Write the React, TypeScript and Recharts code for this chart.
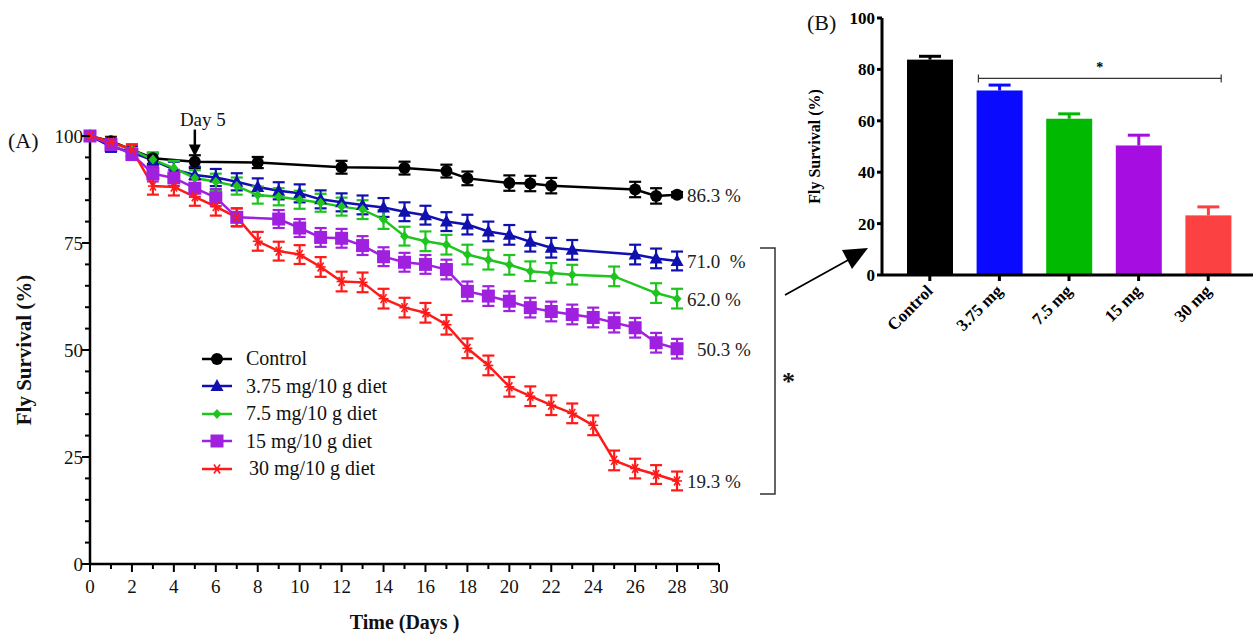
import React from 'react';
import {
    Bar, BarChart, Cell, ErrorBar, LabelList, Line, LineChart,
    ReferenceLine, XAxis, YAxis
} from 'recharts';

// ---- panel A: survival over time ----
const controlDays = [0, 1, 3, 5, 8, 12, 15, 17, 18, 20, 21, 22, 26, 27, 28];
const controlSurvival = [100, 98.8, 94.8, 94.0, 93.8, 92.7, 92.5, 91.8, 90.1, 89.0, 88.9, 88.4, 87.5, 86.0, 86.3];
const controlErr = [0, 1.0, 1.3, 1.5, 1.3, 1.5, 1.5, 1.5, 1.6, 1.8, 1.8, 1.8, 1.8, 1.8, 0.6];

const lowDays = [0, 1, 2, 3, 4, 5, 6, 7, 8, 9, 10, 11, 12, 13, 14, 15, 16, 17, 18, 19, 20, 21, 22, 23, 26, 27, 28];
const lowSurvival = [100, 97.5, 96.2, 94.3, 92.2, 90.9, 90.3, 89.3, 88.1, 87.2, 86.6, 85.2, 84.5, 83.9, 83.3, 82.3, 81.5, 80.0, 79.3, 77.7, 76.9, 75.3, 73.9, 73.4, 72.3, 71.4, 70.8];
const lowErr = [0, 1.2, 1.4, 1.6, 1.8, 1.9, 2.0, 2.0, 2.0, 2.0, 2.1, 2.1, 2.1, 2.2, 2.2, 2.2, 2.2, 2.2, 2.3, 2.3, 2.3, 2.3, 2.3, 2.3, 2.3, 2.3, 2.2];

const midDays = [0, 1, 2, 3, 4, 5, 6, 7, 8, 9, 10, 11, 12, 13, 14, 15, 16, 17, 18, 19, 20, 21, 22, 23, 25, 27, 28];
const midSurvival = [100, 98.5, 96.8, 94.5, 92.5, 90.2, 89.3, 88.3, 86.2, 85.8, 85.1, 84.4, 83.5, 82.8, 80.5, 76.6, 75.4, 74.6, 72.3, 71.1, 69.9, 68.4, 68.0, 67.6, 67.2, 63.3, 62.0];
const midErr = [0, 1.0, 1.3, 1.5, 1.7, 1.8, 1.9, 2.0, 2.0, 2.0, 2.1, 2.1, 2.1, 2.2, 2.2, 2.2, 2.3, 2.3, 2.3, 2.3, 2.3, 2.3, 2.3, 2.3, 2.3, 2.3, 2.3];

const highDays = [0, 1, 2, 3, 4, 5, 6, 7, 9, 10, 11, 12, 13, 14, 15, 16, 17, 18, 19, 20, 21, 22, 23, 24, 25, 26, 27, 28];
const highSurvival = [100, 98.0, 95.7, 91.2, 90.2, 87.8, 85.6, 81.0, 80.6, 78.5, 76.3, 76.1, 74.4, 71.8, 70.5, 70.0, 68.8, 63.7, 62.6, 61.4, 59.9, 59.0, 58.3, 57.6, 56.4, 55.2, 51.7, 50.3];
const highErr = [0, 1.0, 1.3, 1.8, 1.9, 2.0, 2.0, 2.1, 2.1, 2.1, 2.2, 2.2, 2.2, 2.2, 2.2, 2.2, 2.3, 2.3, 2.3, 2.3, 2.3, 2.3, 2.3, 2.3, 2.3, 2.3, 2.3, 2.3];

const topDays = [0, 1, 2, 3, 4, 5, 6, 7, 8, 9, 10, 11, 12, 13, 14, 15, 16, 17, 18, 19, 20, 21, 22, 23, 24, 25, 26, 27, 28];
const topSurvival = [100, 98.6, 96.8, 88.3, 88.1, 85.8, 83.5, 81.0, 75.4, 73.1, 72.3, 69.4, 66.0, 65.8, 62.0, 59.9, 58.7, 55.9, 50.4, 46.4, 41.4, 39.2, 37.1, 35.2, 32.4, 24.2, 22.3, 20.9, 19.4];
const topErr = [0, 1.0, 1.2, 2.0, 2.0, 2.1, 2.1, 2.1, 2.2, 2.2, 2.2, 2.3, 2.3, 2.3, 2.3, 2.3, 2.3, 2.3, 2.3, 2.3, 2.3, 2.3, 2.3, 2.3, 2.3, 2.3, 2.3, 2.2, 2.2];

const seriesNames = ['Control', '3.75 mg/10 g diet', '7.5 mg/10 g diet', '15 mg/10 g diet', '30 mg/10 g diet'];
const finalLabels = ['86.3 %', '71.0  %', '62.0 %', '50.3 %', '19.3 %'];
const dayTicks = [0, 1, 2, 3, 4, 5, 6, 7, 8, 9, 10, 11, 12, 13, 14, 15, 16, 17, 18, 19, 20, 21, 22, 23, 24, 25, 26, 27, 28, 29, 30];
const survivalTicks = [0, 5, 10, 15, 20, 25, 30, 35, 40, 45, 50, 55, 60, 65, 70, 75, 80, 85, 90, 95, 100];

// ---- panel B: survival at day 28 ----
const doseGroups = ['Control', '3.75 mg', '7.5 mg', '15 mg', '30 mg'];
const doseSurvival = [83.8, 71.8, 60.8, 50.4, 23.2];
const doseErr = [1.3, 2.1, 1.9, 4.0, 3.3];
const barTicks = [0, 20, 40, 60, 80, 100];

const LINE_COLORS = ['#000000', '#1010b0', '#1fc41f', '#a020e0', '#ff1a1a'];
const BAR_COLORS = ['#000000', '#0a0aff', '#00b900', '#a50de0', '#fb4141'];
const SERIF = '"Liberation Serif", "Times New Roman", serif';

const build = (days: number[], vals: number[], errs: number[]) =>
    days.map((d, i) => ({ day: d, survival: vals[i], err: errs[i] }));

const series = [
    build(controlDays, controlSurvival, controlErr),
    build(lowDays, lowSurvival, lowErr),
    build(midDays, midSurvival, midErr),
    build(highDays, highSurvival, highErr),
    build(topDays, topSurvival, topErr)
];

const barData = doseGroups.map((g, i) => ({ group: g, survival: doseSurvival[i], err: doseErr[i] }));

function Marker({ kind, cx, cy, color }: { kind: number, cx: number, cy: number, color: string }) {
    if (kind === 0) return <circle cx={cx} cy={cy} r={6} fill={color}/>;
    if (kind === 1) return <polygon points={`${cx},${cy - 7} ${cx - 6.5},${cy + 5} ${cx + 6.5},${cy + 5}`} fill={color}/>;
    if (kind === 2) return <polygon points={`${cx},${cy - 5} ${cx + 4.5},${cy} ${cx},${cy + 5} ${cx - 4.5},${cy}`} fill={color}/>;
    if (kind === 3) return <rect x={cx - 6.5} y={cy - 6.5} width={13} height={13} fill={color}/>;
    return (
        <g stroke={color} strokeWidth={1.6}>
            <line x1={cx - 5} y1={cy} x2={cx + 5} y2={cy}/>
            <line x1={cx - 3} y1={cy - 4.5} x2={cx + 3} y2={cy + 4.5}/>
            <line x1={cx + 3} y1={cy - 4.5} x2={cx - 3} y2={cy + 4.5}/>
        </g>
    );
}

const makeDot = (kind: number) => (p: any) =>
    <Marker key={`dot-${kind}-${p.index}`} kind={kind} cx={p.cx} cy={p.cy} color={LINE_COLORS[kind]}/>;

const labelShift = [10, 10, 10, 20, 10];
const makeEndLabel = (k: number) => (p: any) => {
    if (p.index !== series[k].length - 1) return null;
    return (
        <text x={p.x + labelShift[k]} y={p.y + 7} fontFamily={SERIF} fontSize={19} fill="#222" style={{ whiteSpace: 'pre' }}>
            {finalLabels[k]}
        </text>
    );
};

function DayTick(props: any) {
    const { x, y, payload } = props;
    const major = payload.value % 2 === 0;
    return (
        <g>
            <line x1={x} x2={x} y1={y} y2={y + (major ? 8 : 5)} stroke="#000" strokeWidth={2}/>
            {major && <text x={x} y={y + 29} textAnchor="middle" fontFamily={SERIF} fontSize={19} fill="#111">{payload.value}</text>}
        </g>
    );
}

function SurvivalTick(props: any) {
    const { x, y, payload } = props;
    const major = payload.value % 25 === 0;
    return (
        <g>
            <line x1={x} x2={x - (major ? 8 : 5)} y1={y} y2={y} stroke="#000" strokeWidth={2}/>
            {major && <text x={x - 7} y={y + 7} textAnchor="end" fontFamily={SERIF} fontSize={19} fill="#111">{payload.value}</text>}
        </g>
    );
}

function GroupTick(props: any) {
    const { x, y, payload } = props;
    return (
        <g>
            <line x1={x} x2={x} y1={y} y2={y + 6} stroke="#000" strokeWidth={3}/>
            <text x={x + 4} y={y + 17} transform={`rotate(-45, ${x + 4}, ${y + 17})`} textAnchor="end"
                  fontFamily={SERIF} fontWeight="bold" fontSize={17} fill="#000">{payload.value}</text>
        </g>
    );
}

// bar with its own upward error bar in the bar's colour
const BarWithError = (p: any) => {
    const { x, y, width, height, index, payload } = p;
    const color = BAR_COLORS[index];
    const perUnit = height / payload.survival;
    const top = y - payload.err * perUnit;
    const cx = x + width / 2;
    return (
        <g>
            <rect x={x} y={y} width={width} height={height} fill={color}/>
            <line x1={cx} x2={cx} y1={y} y2={top} stroke={color} strokeWidth={3}/>
            <line x1={cx - 11} x2={cx + 11} y1={top} y2={top} stroke={color} strokeWidth={3}/>
        </g>
    );
};

function LegendBox() {
    return (
        <div style={{ fontFamily: SERIF, fontSize: 20, color: '#111' }}>
            {seriesNames.map((name, k) => (
                <div key={name} style={{ display: 'flex', alignItems: 'center', height: 27.5 }}>
                    <svg width={46} height={16}>
                        <line x1={2} x2={32} y1={8} y2={8} stroke={LINE_COLORS[k]} strokeWidth={2.5}/>
                        <Marker kind={k} cx={17} cy={8} color={LINE_COLORS[k]}/>
                    </svg>
                    <span style={{ marginLeft: k === 4 ? 3 : 0 }}>{name}</span>
                </div>
            ))}
        </div>
    );
}

const sigShape = (p: any) => {
    const { x1, y1, x2, y2 } = p;
    const a = x1 - 21;
    const b = x2 + 13;
    return (
        <g stroke="#333" strokeWidth={1.2}>
            <line x1={a} y1={y1} x2={b} y2={y2}/>
            <line x1={a} y1={y1 - 4} x2={a} y2={y1 + 4}/>
            <line x1={b} y1={y2 - 4} x2={b} y2={y2 + 4}/>
            <text x={(a + b) / 2} y={y1 - 6} textAnchor="middle" fontFamily={SERIF} fontWeight="bold" fontSize={14} fill="#000" stroke="none">*</text>
        </g>
    );
};

const dayArrow = (p: any) => {
    const { x1, y1, x2, y2 } = p;
    return (
        <g>
            <line x1={x1} y1={y1} x2={x2} y2={y2 - 10} stroke="#000" strokeWidth={2.5}/>
            <polygon points={`${x2 - 6},${y2 - 12} ${x2 + 6},${y2 - 12} ${x2},${y2}`} fill="#000"/>
            <text x={x1 + 8} y={y1 - 4} textAnchor="middle" fontFamily={SERIF} fontSize={19} fill="#111">Day 5</text>
        </g>
    );
};

export default function App() {
    return (
        <div style={{ position: 'absolute', left: 0, top: 0, width: 1253, height: 635, background: '#fff', overflow: 'hidden' }}>
            <div style={{ position: 'absolute', left: 0, top: 0 }}>
                <LineChart width={760} height={635} margin={{ top: 136, right: 41, bottom: 0, left: 0 }}>
                    <XAxis dataKey="day" type="number" domain={[0, 30]} ticks={dayTicks} interval={0}
                           allowDuplicatedCategory={false} tickSize={0} tickMargin={0} tickLine={false}
                           tick={<DayTick/>} height={71} stroke="#000" strokeWidth={2.5}
                           label={{ value: 'Time (Days )', position: 'insideBottom', offset: 6, fontFamily: SERIF, fontWeight: 'bold', fontSize: 20, fill: '#111' }}/>
                    <YAxis type="number" domain={[0, 100]} ticks={survivalTicks} interval={0} width={90}
                           tickSize={0} tickMargin={0} tickLine={false} tick={<SurvivalTick/>} stroke="#000" strokeWidth={2.5}
                           label={{ value: 'Fly Survival (%)', angle: -90, position: 'insideLeft', offset: 24, textAnchor: 'middle', fontFamily: SERIF, fontWeight: 'bold', fontSize: 21, fill: '#111' }}/>
                    <ReferenceLine segment={[{ x: 5, y: 101.5 }, { x: 5, y: 95.2 }]} ifOverflow="visible" shape={dayArrow}/>
                    {series.map((data, k) => (
                        <Line key={seriesNames[k]} data={data} dataKey="survival" name={seriesNames[k]}
                              stroke={LINE_COLORS[k]} strokeWidth={2.5} dot={makeDot(k)} activeDot={false}
                              isAnimationActive={false}>
                            <ErrorBar dataKey="err" direction="y" width={6} stroke={LINE_COLORS[k]} strokeWidth={2.2}/>
                            <LabelList dataKey="survival" content={makeEndLabel(k)}/>
                        </Line>
                    ))}
                </LineChart>
            </div>
            <div style={{ position: 'absolute', left: 200, top: 345, width: 240 }}>
                <LegendBox/>
            </div>

            <div style={{ position: 'absolute', left: 800, top: 0 }}>
                <BarChart width={453} height={350} data={barData} margin={{ top: 18, right: 0, bottom: 0, left: 0 }}>
                    <XAxis dataKey="group" tickSize={0} tickMargin={0} tickLine={false} tick={<GroupTick/>}
                           height={75} stroke="#000" strokeWidth={3} padding={{ left: 13, right: 10 }} interval={0}/>
                    <YAxis domain={[0, 100]} ticks={barTicks} width={82} stroke="#000" strokeWidth={3}
                           tickSize={5} tickMargin={2} tickLine={{ stroke: '#000', strokeWidth: 3 }}
                           tick={{ fontFamily: SERIF, fontWeight: 'bold', fontSize: 17, fill: '#000' }}
                           label={{ value: 'Fly Survival  (%)', angle: -90, position: 'insideLeft', offset: 14, textAnchor: 'middle', fontFamily: SERIF, fontWeight: 'bold', fontSize: 16, fill: '#000' }}/>
                    <ReferenceLine segment={[{ x: '3.75 mg', y: 76.5 }, { x: '30 mg', y: 76.5 }]} ifOverflow="visible" shape={sigShape}/>
                    <Bar dataKey="survival" barSize={46} isAnimationActive={false} shape={BarWithError}>
                        {barData.map((_d, i) => <Cell key={`cell-${i}`} fill={BAR_COLORS[i]}/>)}
                    </Bar>
                </BarChart>
            </div>

            <svg width={1253} height={635} style={{ position: 'absolute', left: 0, top: 0, pointerEvents: 'none' }}>
                <text x={8} y={148} fontFamily={SERIF} fontSize={22} fill="#111">(A)</text>
                <text x={807} y={30} fontFamily={SERIF} fontSize={22} fill="#111">(B)</text>
                <g stroke="#333" strokeWidth={1.5} fill="none">
                    <polyline points="760,248 775,248 775,494 760,494"/>
                </g>
                <text x={782} y={390} fontFamily={SERIF} fontWeight="bold" fontSize={26} fill="#111">*</text>
                <line x1={785} y1={295} x2={850} y2={259} stroke="#000" strokeWidth={1.8}/>
                <polygon points="868,248 842,250 852,269" fill="#000"/>
            </svg>
        </div>
    );
}
